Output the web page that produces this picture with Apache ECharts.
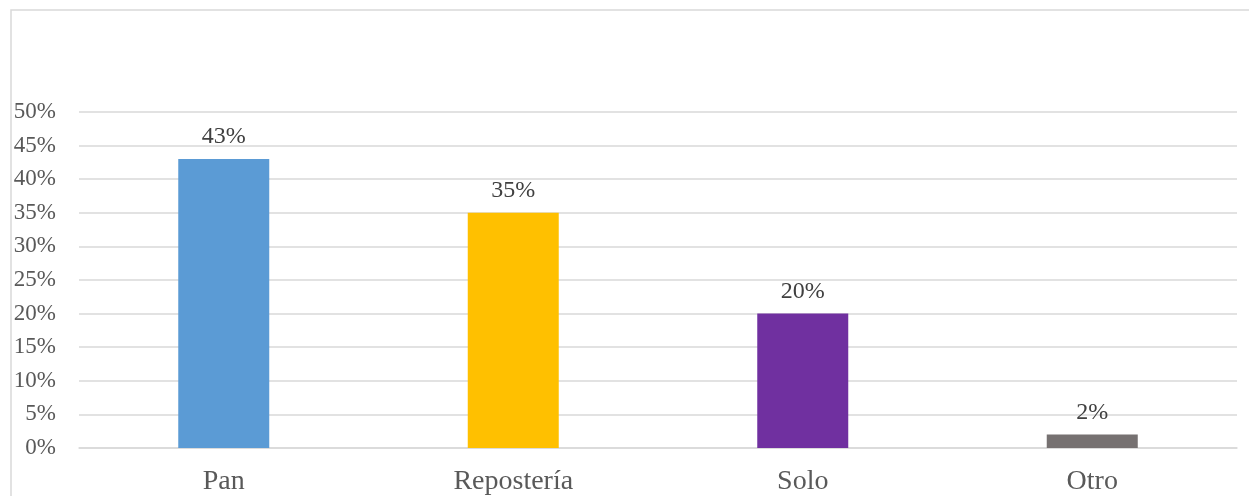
<!DOCTYPE html>
<html>
<head>
<meta charset="utf-8">
<script src="https://cdn.jsdelivr.net/npm/echarts@6/dist/echarts.min.js"></script>
<style>html,body{margin:0;padding:0;background:#fff}#c{width:1249px;height:496px}</style>
</head>
<body>
<div id="c"></div>
<script>
const categories = ["Pan", "Repostería", "Solo", "Otro"];
const values = [43, 35, 20, 2];
const colors = ["#5B9BD5", "#FFC000", "#7030A0", "#767171"];
const yTicks = { min: 0, max: 50, interval: 5 };

const chart = echarts.init(document.getElementById('c'));
const font = '"Liberation Serif", "Times New Roman", serif';
chart.setOption({
  animation: false,
  backgroundColor: '#fff',
  graphic: [{
    type: 'rect', shape: { x: 11, y: 10, width: 1400, height: 700 },
    style: { fill: 'none', stroke: '#D9D9D9', lineWidth: 1.5 }, silent: true
  }],
  grid: { left: 79, right: 12, top: 112, bottom: 47, containLabel: false },
  xAxis: {
    type: 'category', data: categories,
    axisLine: { show: true, lineStyle: { color: '#D9D9D9', width: 1.5 } },
    axisTick: { show: false },
    axisLabel: { color: '#595959', fontFamily: font, fontSize: 28, margin: 20 }
  },
  yAxis: {
    type: 'value', min: yTicks.min, max: yTicks.max, interval: yTicks.interval,
    axisLine: { show: false }, axisTick: { show: false },
    splitLine: { lineStyle: { color: '#D9D9D9', width: 1.5 } },
    axisLabel: { color: '#595959', fontFamily: font, fontSize: 23, margin: 23, formatter: v => v + '%' }
  },
  series: [{
    type: 'bar', barWidth: 91,
    data: values.map((v, i) => ({ value: v, itemStyle: { color: colors[i] } })),
    label: { show: true, position: 'top', distance: 10, color: '#404040', fontFamily: font, fontSize: 24, formatter: p => p.value + '%' }
  }]
});
</script>
</body>
</html>
